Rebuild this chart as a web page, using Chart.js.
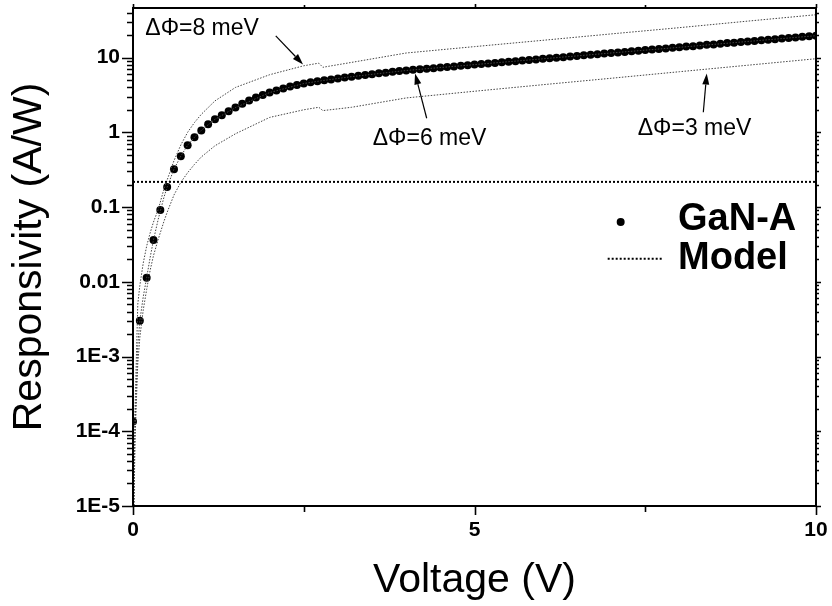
<!DOCTYPE html>
<html>
<head>
<meta charset="utf-8">
<script src="https://cdn.jsdelivr.net/npm/chart.js@4.4.0/dist/chart.umd.min.js"></script>
<style>
  html, body { margin: 0; padding: 0; background: #fff; }
</style>
</head>
<body>
<canvas id="chart" width="832" height="606"></canvas>
<script>
const FONT = '"Liberation Sans", Arial, Helvetica, sans-serif';

// GaN-A measured responsivity, one point every 0.1 V
const gaNVoltage = [
  0, 0.1, 0.2, 0.3, 0.4, 0.5, 0.6, 0.7, 0.8, 0.9,
  1.0, 1.1, 1.2, 1.3, 1.4, 1.5, 1.6, 1.7, 1.8, 1.9,
  2.0, 2.1, 2.2, 2.3, 2.4, 2.5, 2.6, 2.7, 2.8, 2.9,
  3.0, 3.1, 3.2, 3.3, 3.4, 3.5, 3.6, 3.7, 3.8, 3.9,
  4.0, 4.1, 4.2, 4.3, 4.4, 4.5, 4.6, 4.7, 4.8, 4.9,
  5.0, 5.1, 5.2, 5.3, 5.4, 5.5, 5.6, 5.7, 5.8, 5.9,
  6.0, 6.1, 6.2, 6.3, 6.4, 6.5, 6.6, 6.7, 6.8, 6.9,
  7.0, 7.1, 7.2, 7.3, 7.4, 7.5, 7.6, 7.7, 7.8, 7.9,
  8.0, 8.1, 8.2, 8.3, 8.4, 8.5, 8.6, 8.7, 8.8, 8.9,
  9.0, 9.1, 9.2, 9.3, 9.4, 9.5, 9.6, 9.7, 9.8, 9.9,
  10.0
];
const gaNResp = [
  1.35e-4, 3.0e-3, 0.0113, 0.0363, 0.091, 0.185, 0.321, 0.479, 0.671, 0.858,
  1.06, 1.28, 1.49, 1.69, 1.91, 2.14, 2.40, 2.66, 2.92, 3.16,
  3.40, 3.63, 3.86, 4.09, 4.29, 4.49, 4.66, 4.81, 4.95, 5.09,
  5.25, 5.40, 5.55, 5.69, 5.83, 5.98, 6.14, 6.28, 6.43, 6.58,
  6.71, 6.84, 6.97, 7.08, 7.21, 7.35, 7.48, 7.60, 7.74, 7.89,
  8.04, 8.18, 8.32, 8.47, 8.63, 8.79, 8.93, 9.10, 9.27, 9.44,
  9.62, 9.77, 9.95, 10.1, 10.3, 10.5, 10.7, 10.9, 11.1, 11.3,
  11.5, 11.7, 11.9, 12.1, 12.3, 12.6, 12.8, 13.0, 13.2, 13.5,
  13.7, 14.0, 14.2, 14.5, 14.8, 15.0, 15.3, 15.6, 15.8, 16.1,
  16.4, 16.7, 17.0, 17.3, 17.6, 18.0, 18.3, 18.6, 18.9, 19.3,
  19.6
];

// model curves for three barrier changes
const modelVoltage = [0, 0.01, 0.03, 0.07, 0.1, 0.15, 0.2, 0.25, 0.3, 0.37, 0.45, 0.5, 0.6, 0.7, 0.8, 0.9,
  1.0, 1.2, 1.5, 2.0, 2.5, 2.72, 2.78, 3.2, 4, 5, 6, 7, 8, 9, 10];
const model8meV = [1e-7, 1e-5, 2e-4, 0.005, 0.0089, 0.0178, 0.030, 0.0447, 0.063, 0.093, 0.17, 0.23, 0.417, 0.676, 1.0, 1.35,
  1.74, 2.63, 3.98, 5.89, 7.76, 8.41, 7.41, 8.61, 11.5, 14.0, 17.0, 20.7, 25.1, 30.7, 37.4];
const model6meV = [1e-7, 8e-6, 1.26e-4, 0.0014, 0.003, 0.0063, 0.0113, 0.0209, 0.0363, 0.069, 0.132, 0.185, 0.321, 0.479, 0.671, 0.858,
  1.06, 1.49, 2.14, 3.40, 4.49, 4.83, 4.92, 5.55, 6.71, 8.04, 9.62, 11.5, 13.7, 16.4, 19.6];
const model3meV = [1e-7, 5e-6, 8e-5, 8e-4, 0.0018, 0.0042, 0.0079, 0.0141, 0.0224, 0.0372, 0.063, 0.085, 0.145, 0.214, 0.288, 0.372,
  0.468, 0.66, 0.955, 1.58, 2.0, 2.16, 1.95, 2.16, 2.88, 3.54, 4.33, 5.28, 6.46, 7.89, 9.64];

// horizontal dotted level
const levelVoltage = [0, 10];
const levelResp = [0.217, 0.217];

const xTickValues = [0, 5, 10];
const xTickLabels = ['0', '5', '10'];
const xMinorTicks = [2.5, 7.5];
const yTickValues = [1e-5, 1e-4, 1e-3, 0.01, 0.1, 1, 10];
const yTickLabels = ['1E-5', '1E-4', '1E-3', '0.01', '0.1', '1', '10'];
const Y_MIN = 1e-5, Y_MAX = 46;

// annotation labels + arrows, in data units
const notes = [
  { text: 'ΔΦ=8 meV', at: [0.18, 24.5], from: [2.09, 19.5], to: [2.49, 8.07] },
  { text: 'ΔΦ=6 meV', at: [3.51, 0.83], from: [4.30, 1.54], to: [4.13, 6.12] },
  { text: 'ΔΦ=3 meV', at: [7.39, 1.13], from: [8.35, 1.85], to: [8.40, 6.12] }
];

const pts = (xs, ys) => xs.map((v, i) => ({ x: v, y: ys[i] }));

const modelLine = (label, ys) => ({
  label, data: pts(modelVoltage, ys), showLine: true, pointRadius: 0,
  borderColor: '#444', borderWidth: 1, borderDash: [1.5, 1.5]
});

function yMinorTicks() {
  const out = [];
  for (let e = -5; e <= 1; e++) {
    for (let m = 2; m <= 9; m++) {
      const v = m * Math.pow(10, e);
      if (v <= Y_MAX) out.push(v);
    }
  }
  return out;
}

function arrow(ctx, x1, y1, x2, y2) {
  const ang = Math.atan2(y2 - y1, x2 - x1);
  const L = 11, W = 3.5;
  const bx = x2 - L * Math.cos(ang), by = y2 - L * Math.sin(ang);
  ctx.beginPath();
  ctx.moveTo(x1, y1);
  ctx.lineTo(bx, by);
  ctx.stroke();
  ctx.beginPath();
  ctx.moveTo(x2, y2);
  ctx.lineTo(bx + W * Math.sin(ang), by - W * Math.cos(ang));
  ctx.lineTo(bx - W * Math.sin(ang), by + W * Math.cos(ang));
  ctx.closePath();
  ctx.fill();
}

const decor = {
  id: 'decor',
  afterDatasetsDraw(chart) {
    const { ctx, chartArea: a, scales: { x, y } } = chart;
    ctx.save();
    ctx.strokeStyle = '#000';
    ctx.fillStyle = '#000';

    // frame
    ctx.lineWidth = 2;
    ctx.strokeRect(a.left, a.top, a.right - a.left, a.bottom - a.top);

    // y ticks (left outward, right outward small)
    ctx.lineWidth = 1.6;
    ctx.beginPath();
    yTickValues.forEach(v => {
      const py = Math.round(y.getPixelForValue(v)) + 0.5;
      ctx.moveTo(a.left - 11, py); ctx.lineTo(a.left, py);
      ctx.moveTo(a.right, py); ctx.lineTo(a.right + 5, py);
    });
    yMinorTicks().forEach(v => {
      const py = Math.round(y.getPixelForValue(v)) + 0.5;
      ctx.moveTo(a.left - 6, py); ctx.lineTo(a.left, py);
      ctx.moveTo(a.right, py); ctx.lineTo(a.right + 3, py);
    });
    // x ticks
    xTickValues.forEach(v => {
      const px = Math.round(x.getPixelForValue(v)) + 0.5;
      ctx.moveTo(px, a.bottom); ctx.lineTo(px, a.bottom + 9);
      ctx.moveTo(px, a.top); ctx.lineTo(px, a.top - 4);
    });
    xMinorTicks.forEach(v => {
      const px = Math.round(x.getPixelForValue(v)) + 0.5;
      ctx.moveTo(px, a.bottom); ctx.lineTo(px, a.bottom + 6);
      ctx.moveTo(px, a.top); ctx.lineTo(px, a.top - 3);
    });
    ctx.stroke();

    // tick labels
    ctx.font = 'bold 21px ' + FONT;
    ctx.textBaseline = 'middle';
    ctx.textAlign = 'right';
    yTickValues.forEach((v, i) => ctx.fillText(yTickLabels[i], a.left - 13, y.getPixelForValue(v)));
    ctx.textAlign = 'center';
    xTickValues.forEach((v, i) => ctx.fillText(xTickLabels[i], x.getPixelForValue(v), a.bottom + 24));

    // annotations
    ctx.font = '23px ' + FONT;
    ctx.textAlign = 'left';
    ctx.lineWidth = 1.2;
    notes.forEach(n => {
      ctx.fillText(n.text, x.getPixelForValue(n.at[0]), y.getPixelForValue(n.at[1]));
      arrow(ctx,
        x.getPixelForValue(n.from[0]), y.getPixelForValue(n.from[1]),
        x.getPixelForValue(n.to[0]), y.getPixelForValue(n.to[1]));
    });

    // legend
    ctx.beginPath();
    ctx.arc(x.getPixelForValue(7.14), y.getPixelForValue(0.063), 4, 0, Math.PI * 2);
    ctx.fill();
    ctx.lineWidth = 2;
    ctx.setLineDash([2, 2]);
    ctx.beginPath();
    const ly = y.getPixelForValue(0.0203);
    ctx.moveTo(x.getPixelForValue(6.95), ly);
    ctx.lineTo(x.getPixelForValue(7.75), ly);
    ctx.stroke();
    ctx.setLineDash([]);
    ctx.font = 'bold 38px ' + FONT;
    ctx.fillText('GaN-A', x.getPixelForValue(7.98), y.getPixelForValue(0.069));
    ctx.fillText('Model', x.getPixelForValue(7.98), ly);
    ctx.restore();
  }
};

new Chart(document.getElementById('chart'), {
  type: 'scatter',
  data: {
    datasets: [
      { label: 'level', data: pts(levelVoltage, levelResp), showLine: true, pointRadius: 0,
        borderColor: '#000', borderWidth: 2, borderDash: [2, 2] },
      modelLine('ΔΦ=8 meV', model8meV),
      modelLine('ΔΦ=6 meV', model6meV),
      modelLine('ΔΦ=3 meV', model3meV),
      { label: 'GaN-A', data: pts(gaNVoltage, gaNResp), showLine: false,
        pointRadius: 4, pointBackgroundColor: '#000', pointBorderWidth: 0 }
    ]
  },
  options: {
    responsive: false,
    animation: false,
    devicePixelRatio: 1,
    layout: { padding: { top: 8, right: 16, left: 0, bottom: 0 } },
    plugins: { legend: { display: false }, tooltip: { enabled: false } },
    scales: {
      x: {
        type: 'linear', min: 0, max: 10,
        afterFit(s) { s.height = 100; },
        grid: { display: false, drawTicks: false },
        border: { display: false },
        ticks: { display: false },
        title: { display: true, text: 'Voltage (V)', color: '#000', font: { family: FONT, size: 41 }, padding: { top: 0, bottom: 1 } }
      },
      y: {
        type: 'logarithmic', min: Y_MIN, max: Y_MAX,
        afterFit(s) { s.width = 133; },
        grid: { display: false, drawTicks: false },
        border: { display: false },
        ticks: { display: false },
        title: { display: true, text: 'Responsivity (A/W)', color: '#000', font: { family: FONT, size: 41 }, padding: { top: 5, bottom: 0 } }
      }
    }
  },
  plugins: [decor]
});
</script>
</body>
</html>
